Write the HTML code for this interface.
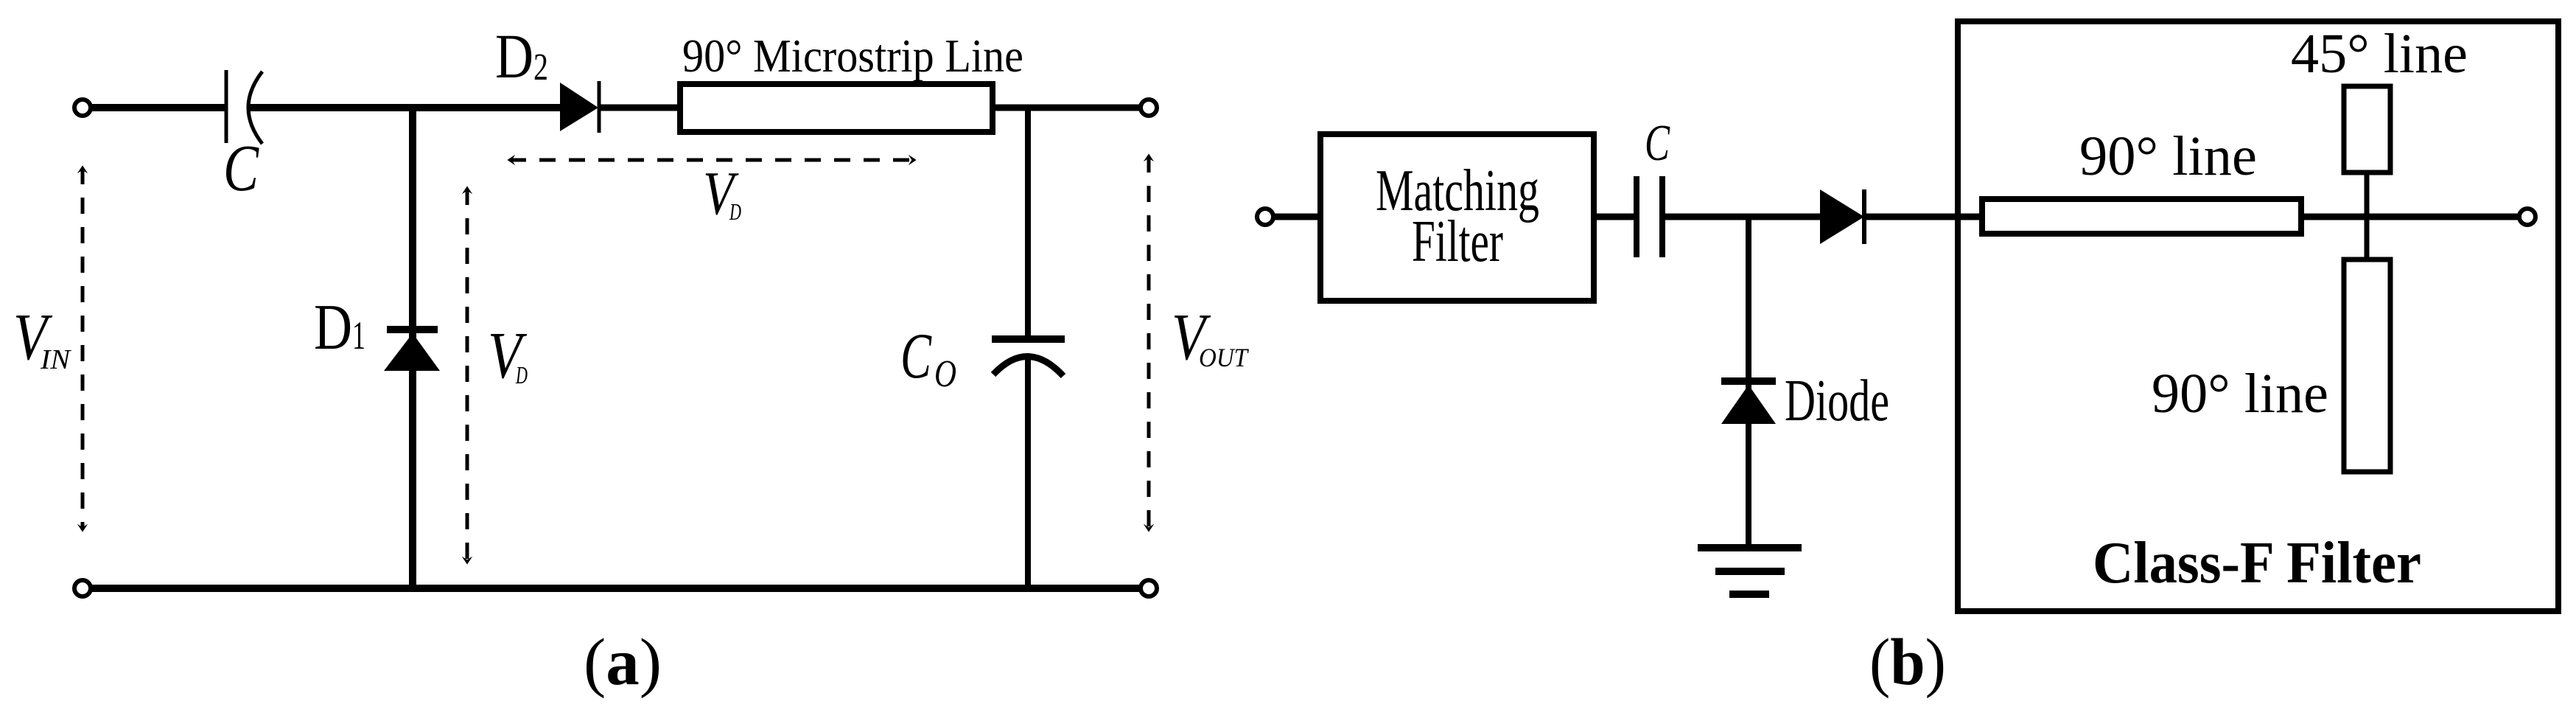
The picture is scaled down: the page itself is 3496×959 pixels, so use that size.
<!DOCTYPE html>
<html><head><meta charset="utf-8"><style>
html,body{margin:0;padding:0;background:#fff;}
svg{display:block;}
text{font-family:"Liberation Serif","Times New Roman","Nimbus Roman",serif;fill:#000;}
</style></head><body>
<svg width="3496" height="959" viewBox="0 0 3496 959" xmlns="http://www.w3.org/2000/svg">
<defs>
<marker id="ah" viewBox="0 0 20 20" refX="10" refY="10" markerWidth="18" markerHeight="18" markerUnits="userSpaceOnUse" orient="auto-start-reverse">
<path d="M2,2 L14,10 L2,18 L7,10 Z" fill="#000"/>
</marker>
</defs>
<g stroke="#000" fill="none">
<line x1="124" y1="146" x2="307" y2="146" stroke-width="10"/>
<line x1="336" y1="146" x2="760" y2="146" stroke-width="10"/>
<line x1="812" y1="146" x2="923" y2="146" stroke-width="9"/>
<line x1="1347" y1="146" x2="1546" y2="146" stroke-width="9"/>
<line x1="124" y1="798" x2="1546" y2="798" stroke-width="10"/>
<circle cx="112" cy="146" r="11" stroke-width="6" fill="#fff"/>
<circle cx="1559" cy="146" r="11" stroke-width="6" fill="#fff"/>
<circle cx="112" cy="798" r="11" stroke-width="6" fill="#fff"/>
<circle cx="1559" cy="798" r="11" stroke-width="6" fill="#fff"/>
<line x1="307" y1="95" x2="307" y2="194" stroke-width="5"/>
<path d="M356,97 Q318,146 356,195" stroke-width="5"/>
<line x1="560" y1="146" x2="560" y2="798" stroke-width="10"/>
<rect x="525" y="442" width="69" height="10" fill="#000" stroke="none"/>
<path d="M521,503 L597,503 L560,452 Z" fill="#000" stroke="none"/>
<path d="M760,112 L760,178 L812,146 Z" fill="#000" stroke="none"/>
<line x1="813" y1="110" x2="813" y2="180" stroke-width="5"/>
<rect x="923" y="114" width="424" height="65" stroke-width="8"/>
<line x1="1395" y1="146" x2="1395" y2="460" stroke-width="8"/>
<rect x="1346" y="455" width="99" height="10" fill="#000" stroke="none"/>
<path d="M1348,508 Q1395,458 1443,510" stroke-width="9"/>
<line x1="1395" y1="484" x2="1395" y2="798" stroke-width="8"/>
<g stroke-width="5" stroke-dasharray="22,18">
<line x1="112" y1="228" x2="112" y2="718" marker-start="url(#ah)" marker-end="url(#ah)"/>
<line x1="634" y1="256" x2="634" y2="762" marker-start="url(#ah)" marker-end="url(#ah)"/>
<line x1="692" y1="217" x2="1240" y2="217" marker-start="url(#ah)" marker-end="url(#ah)"/>
<line x1="1559" y1="212" x2="1559" y2="718" marker-start="url(#ah)" marker-end="url(#ah)"/>
</g>
<line x1="1729" y1="294" x2="1792" y2="294" stroke-width="9"/>
<circle cx="1717" cy="294" r="11" stroke-width="6" fill="#fff"/>
<rect x="1792" y="182" width="371" height="226" stroke-width="8"/>
<line x1="2163" y1="294" x2="2221" y2="294" stroke-width="9"/>
<line x1="2221" y1="239" x2="2221" y2="349" stroke-width="8"/>
<line x1="2256" y1="239" x2="2256" y2="349" stroke-width="8"/>
<line x1="2256" y1="294" x2="2470" y2="294" stroke-width="9"/>
<path d="M2470,257 L2470,331 L2530,294 Z" fill="#000" stroke="none"/>
<line x1="2530" y1="257" x2="2530" y2="331" stroke-width="6"/>
<line x1="2530" y1="294" x2="2690" y2="294" stroke-width="9"/>
<line x1="2373" y1="294" x2="2373" y2="743" stroke-width="8"/>
<rect x="2336" y="512" width="74" height="10" fill="#000" stroke="none"/>
<path d="M2336,575 L2410,575 L2373,522 Z" fill="#000" stroke="none"/>
<line x1="2304" y1="743" x2="2445" y2="743" stroke-width="10"/>
<line x1="2328" y1="775" x2="2422" y2="775" stroke-width="10"/>
<line x1="2347" y1="806" x2="2401" y2="806" stroke-width="10"/>
<rect x="2657" y="29" width="815" height="800" stroke-width="8"/>
<rect x="2690" y="270" width="433" height="47" stroke-width="8"/>
<line x1="3123" y1="294" x2="3418" y2="294" stroke-width="9"/>
<circle cx="3430" cy="294" r="11" stroke-width="6" fill="#fff"/>
<line x1="3212" y1="234" x2="3212" y2="352" stroke-width="7"/>
<rect x="3181" y="117" width="63" height="117" stroke-width="7"/>
<rect x="3181" y="352" width="63" height="288" stroke-width="7"/>
</g>

<text x="926" y="97" font-size="64" textLength="463" lengthAdjust="spacingAndGlyphs">90° Microstrip Line</text>
<text x="672" y="105" font-size="86" textLength="52" lengthAdjust="spacingAndGlyphs">D</text>
<text x="724" y="108" font-size="52" textLength="20" lengthAdjust="spacingAndGlyphs">2</text>
<text x="303" y="258" font-size="90" font-style="italic" textLength="48" lengthAdjust="spacingAndGlyphs">C</text>
<text x="954" y="290" font-size="84" font-style="italic" textLength="42" lengthAdjust="spacingAndGlyphs">V</text>
<text x="990" y="298" font-size="32" font-style="italic" textLength="16" lengthAdjust="spacingAndGlyphs">D</text>
<text x="18" y="487" font-size="90" font-style="italic" textLength="46" lengthAdjust="spacingAndGlyphs">V</text>
<text x="55" y="500" font-size="38" font-style="italic" textLength="40" lengthAdjust="spacingAndGlyphs">IN</text>
<text x="426" y="473" font-size="88" textLength="52" lengthAdjust="spacingAndGlyphs">D</text>
<text x="478" y="473" font-size="54" textLength="18" lengthAdjust="spacingAndGlyphs">1</text>
<text x="662" y="512" font-size="90" font-style="italic" textLength="46" lengthAdjust="spacingAndGlyphs">V</text>
<text x="700" y="520" font-size="34" font-style="italic" textLength="16" lengthAdjust="spacingAndGlyphs">D</text>
<text x="1222" y="512" font-size="88" font-style="italic" textLength="42" lengthAdjust="spacingAndGlyphs">C</text>
<text x="1268" y="524" font-size="52" font-style="italic" textLength="30" lengthAdjust="spacingAndGlyphs">O</text>
<text x="1590" y="487" font-size="90" font-style="italic" textLength="46" lengthAdjust="spacingAndGlyphs">V</text>
<text x="1627" y="497" font-size="36" font-style="italic" textLength="66" lengthAdjust="spacingAndGlyphs">OUT</text>
<text x="792" y="928" font-size="90" textLength="106" lengthAdjust="spacingAndGlyphs">(<tspan font-weight="bold">a</tspan>)</text>

<text x="1867" y="285" font-size="80" textLength="222" lengthAdjust="spacingAndGlyphs">Matching</text>
<text x="1916" y="354" font-size="80" textLength="124" lengthAdjust="spacingAndGlyphs">Filter</text>
<text x="2232" y="217" font-size="70" font-style="italic" textLength="34" lengthAdjust="spacingAndGlyphs">C</text>
<text x="2422" y="570" font-size="80" textLength="142" lengthAdjust="spacingAndGlyphs">Diode</text>
<text x="2822" y="237" font-size="76" textLength="241" lengthAdjust="spacingAndGlyphs">90° line</text>
<text x="3109" y="98" font-size="76" textLength="240" lengthAdjust="spacingAndGlyphs">45° line</text>
<text x="2920" y="559" font-size="76" textLength="240" lengthAdjust="spacingAndGlyphs">90° line</text>
<text x="2840" y="790" font-size="80" font-weight="bold" textLength="446" lengthAdjust="spacingAndGlyphs">Class-F Filter</text>
<text x="2537" y="928" font-size="90" textLength="104" lengthAdjust="spacingAndGlyphs">(<tspan font-weight="bold">b</tspan>)</text>
</svg>
</body></html>
